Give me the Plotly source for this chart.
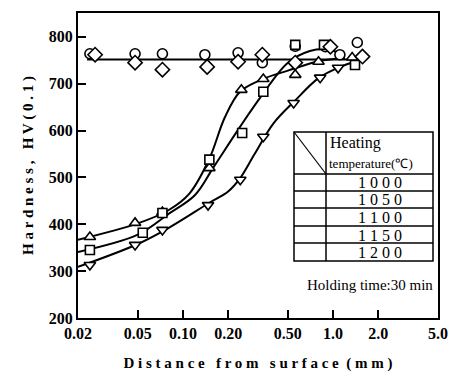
import plotly.graph_objects as go

# ---------------- data ----------------
x_tick_vals = [0.02, 0.05, 0.10, 0.20, 0.50, 1.0, 2.0, 5.0]
x_tick_text = ["0.02", "0.05", "0.10", "0.20", "0.50", "1.0", "2.0", "5.0"]
y_tick_vals = [200, 300, 400, 500, 600, 700, 800]
y_tick_text = ["200", "300", "400", "500", "600", "700", "800"]

temps = ["1 0 0 0", "1 0 5 0", "1 1 0 0", "1 1 5 0", "1 2 0 0"]

x_1000 = [0.024, 0.048, 0.073, 0.140, 0.233, 0.338, 0.56, 0.89, 1.11, 1.45]
y_1000 = [764, 764, 764, 762, 766, 745, 780, 779, 762, 788]

x_1050 = [0.024, 0.048, 0.073, 0.150, 0.245, 0.343, 0.56, 0.80, 1.34]
y_1050 = [373, 403, 426, 520, 687, 710, 719, 747, 756]

x_1100 = [0.024, 0.054, 0.073, 0.150, 0.248, 0.343, 0.56, 0.87, 1.40]
y_1100 = [345, 382, 424, 538, 595, 683, 783, 783, 740]

x_1150 = [0.024, 0.048, 0.073, 0.147, 0.241, 0.343, 0.546, 0.82, 1.08]
y_1150 = [313, 356, 388, 441, 495, 587, 659, 713, 734]

x_1200 = [0.026, 0.048, 0.073, 0.145, 0.233, 0.338, 0.56, 0.96, 1.57]
y_1200 = [762, 745, 730, 736, 747, 762, 745, 779, 758]

# fitted curves
cx_flat = [0.023, 1.6]
cy_flat = [752, 752]

cx_1050 = [0.02, 0.05, 0.08, 0.11, 0.15, 0.19, 0.24, 0.34, 0.5, 0.8, 1.2]
cy_1050 = [367, 402, 430, 465, 540, 628, 683, 710, 728, 748, 755]

cx_1100 = [0.02, 0.05, 0.08, 0.12, 0.16, 0.24, 0.33, 0.5, 0.7, 0.9, 1.2]
cy_1100 = [341, 378, 422, 462, 522, 608, 672, 745, 770, 774, 760]

cx_1150 = [0.02, 0.05, 0.08, 0.15, 0.20, 0.24, 0.30, 0.40, 0.55, 0.8, 1.1, 1.5]
cy_1150 = [309, 358, 392, 446, 470, 498, 550, 615, 662, 712, 735, 750]

# ---------------- figure ----------------
SERIF = "Liberation Serif"
fig = go.Figure()

def curve(x, y):
    fig.add_trace(go.Scatter(x=x, y=y, mode="lines",
                             line=dict(color="black", width=2, shape="spline", smoothing=1.0),
                             hoverinfo="skip", showlegend=False))

curve(cx_flat, cy_flat)
curve(cx_1050, cy_1050)
curve(cx_1100, cy_1100)
curve(cx_1150, cy_1150)

def pts(x, y, sym, size=10):
    fig.add_trace(go.Scatter(x=x, y=y, mode="markers",
                             marker=dict(symbol=sym, size=size, color="white",
                                         line=dict(color="black", width=1.6)),
                             showlegend=False))

pts(x_1000, y_1000, "circle")
pts(x_1050, y_1050, "triangle-up")
pts(x_1100, y_1100, "square", 9)
pts(x_1150, y_1150, "triangle-down")
pts(x_1200, y_1200, "diamond", 11)

# ---------- in-plot table (pixel -> paper helpers) ----------
L, R, T, B = 78, 438, 13, 318
def px(x):
    return (x - L) / (R - L)
def py(y):
    return (B - y) / (B - T)

tl, tm, tr = 294, 326, 433
row_lines = [132, 174, 191, 208, 226, 243, 261]

shapes = []
shapes.append(dict(type="rect", xref="paper", yref="paper",
                   x0=px(tl), x1=px(tr), y0=py(row_lines[-1]), y1=py(row_lines[0]),
                   fillcolor="white", line=dict(color="black", width=1.5), layer="above"))
for yy in row_lines[1:-1]:
    shapes.append(dict(type="line", xref="paper", yref="paper",
                       x0=px(tl), x1=px(tr), y0=py(yy), y1=py(yy),
                       line=dict(color="black", width=1.5), layer="above"))
shapes.append(dict(type="line", xref="paper", yref="paper",
                   x0=px(tm), x1=px(tm), y0=py(row_lines[-1]), y1=py(row_lines[0]),
                   line=dict(color="black", width=1.5), layer="above"))
shapes.append(dict(type="line", xref="paper", yref="paper",
                   x0=px(tl), x1=px(tm), y0=py(row_lines[0]), y1=py(row_lines[1]),
                   line=dict(color="black", width=1.2), layer="above"))

sym_list = ["circle", "triangle-up", "square", "triangle-down", "diamond"]
sym_size = [10, 10, 8, 10, 10]
centers = [(row_lines[i + 1] + row_lines[i + 2]) / 2 for i in range(5)]
fig.add_trace(go.Scatter(x=[px(310)] * 5, y=[py(c) for c in centers], mode="markers",
                         xaxis="x2", yaxis="y2",
                         marker=dict(symbol=sym_list, size=sym_size, color="white",
                                     line=dict(color="black", width=1.8)),
                         showlegend=False, hoverinfo="skip"))

annotations = []
for i, t in enumerate(temps):
    annotations.append(dict(xref="paper", yref="paper", x=px((tm + tr) / 2), y=py(centers[i] + 0.5),
                            text=t, showarrow=False, xanchor="center", yanchor="middle",
                            font=dict(family=SERIF, size=16, color="black"),
                            height=15, valign="middle"))
annotations.append(dict(xref="paper", yref="paper", x=px(328), y=py(143),
                        text="Heating", showarrow=False, xanchor="left", yanchor="middle",
                        font=dict(family=SERIF, size=16, color="black")))
annotations.append(dict(xref="paper", yref="paper", x=px(327), y=py(163),
                        text="temperature(℃)", showarrow=False, xanchor="left", yanchor="middle",
                        font=dict(family=SERIF, size=13, color="black")))
annotations.append(dict(xref="paper", yref="paper", x=px(435), y=py(285),
                        text="Holding time:30 min", showarrow=False, xanchor="right", yanchor="middle",
                        font=dict(family=SERIF, size=15, color="black")))

tickf = dict(family=SERIF, size=16, color="black")
titlef = dict(family=SERIF, size=15, color="black")

fig.update_layout(
    width=450, height=377,
    margin=dict(l=L, r=450 - R, t=T, b=377 - B),
    paper_bgcolor="white", plot_bgcolor="white",
    shapes=shapes, annotations=annotations,
    showlegend=False,
    xaxis=dict(type="log", range=[-1.69897, 0.69897], automargin=False,
               tickvals=x_tick_vals, ticktext=["<b>%s</b>" % t for t in x_tick_text],
               ticks="inside", ticklen=8, tickwidth=1.5, tickcolor="black",
               showline=True, linewidth=2, linecolor="black", mirror=True,
               showgrid=False, zeroline=False, tickfont=tickf,
               title=dict(text="<b>D i s t a n c e   f r o m   s u r f a c e  ( m m )</b>",
                          font=titlef, standoff=16)),
    yaxis=dict(range=[200, 851], automargin=False,
               tickvals=y_tick_vals, ticktext=["<b>%s</b>" % t for t in y_tick_text],
               ticks="inside", ticklen=8, tickwidth=1.5, tickcolor="black",
               showline=True, linewidth=2, linecolor="black", mirror=True,
               showgrid=False, zeroline=False, tickfont=tickf,
               title=dict(text="<b>H a r d n e s s ,   H V ( 0 . 1 )</b>",
                          font=titlef, standoff=12)),
    xaxis2=dict(overlaying="x", range=[0, 1], visible=False, fixedrange=True),
    yaxis2=dict(overlaying="y", range=[0, 1], visible=False, fixedrange=True),
)

fig.write_html("out.html")
